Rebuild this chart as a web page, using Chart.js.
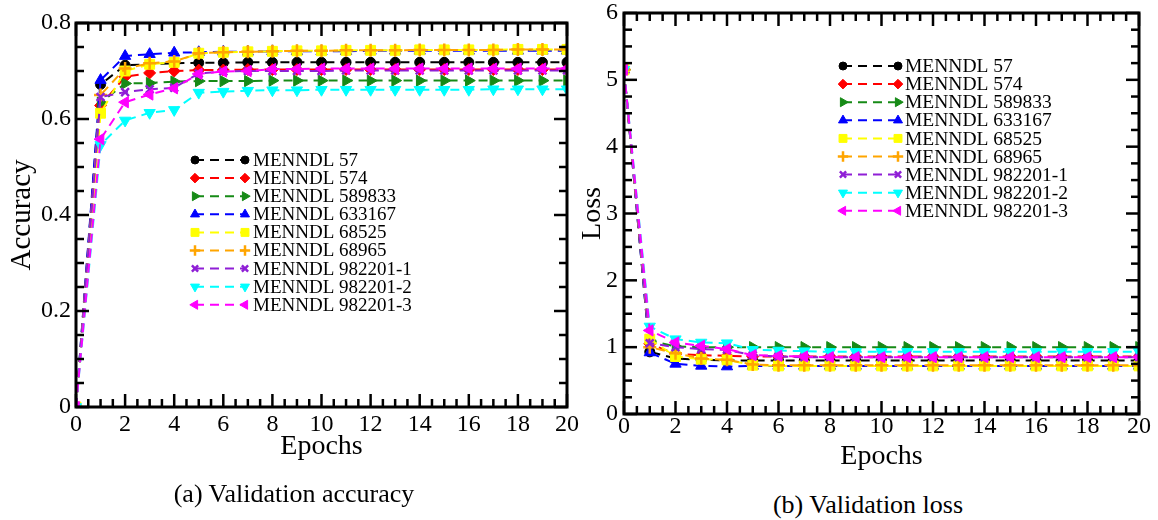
<!DOCTYPE html>
<html>
<head>
<meta charset="utf-8">
<script src="https://cdn.jsdelivr.net/npm/chart.js@4/dist/chart.umd.min.js"></script>
<style>
  body { margin: 0; background: #fff; width: 1158px; height: 520px; position: relative; overflow: hidden; }
  canvas { position: absolute; top: 0; }
  .caption { position: absolute; width: 400px; text-align: center; font: 26px "Liberation Serif", serif; line-height: 30px; color: #000; }
</style>
</head>
<body>
<canvas id="accChart" width="580" height="480" style="left:0"></canvas>
<canvas id="lossChart" width="590" height="480" style="left:568px"></canvas>
<div class="caption" style="left:94px; top:479px">(a) Validation accuracy</div>
<div class="caption" style="left:668px; top:490px">(b) Validation loss</div>
<script>
const epochs = [0, 1, 2, 3, 4, 5, 6, 7, 8, 9, 10, 11, 12, 13, 14, 15, 16, 17, 18, 19, 20];

const seriesNames = [
  "MENNDL 57", "MENNDL 574", "MENNDL 589833", "MENNDL 633167", "MENNDL 68525",
  "MENNDL 68965", "MENNDL 982201-1", "MENNDL 982201-2", "MENNDL 982201-3"
];

// validation accuracy per epoch
const acc57      = [0, 0.672, 0.712, 0.714, 0.716, 0.717, 0.717, 0.718, 0.718, 0.718, 0.718, 0.718, 0.718, 0.718, 0.718, 0.718, 0.718, 0.718, 0.718, 0.718, 0.718];
const acc574     = [0, 0.628, 0.688, 0.696, 0.700, 0.702, 0.702, 0.703, 0.703, 0.703, 0.703, 0.703, 0.703, 0.703, 0.703, 0.703, 0.703, 0.703, 0.703, 0.703, 0.703];
const acc589833  = [0, 0.634, 0.674, 0.675, 0.678, 0.679, 0.679, 0.679, 0.680, 0.680, 0.680, 0.680, 0.680, 0.680, 0.680, 0.680, 0.680, 0.680, 0.680, 0.680, 0.680];
const acc633167  = [0, 0.681, 0.731, 0.735, 0.738, 0.739, 0.740, 0.740, 0.741, 0.741, 0.741, 0.741, 0.742, 0.742, 0.742, 0.742, 0.742, 0.742, 0.742, 0.742, 0.742];
const acc68525   = [0, 0.612, 0.700, 0.714, 0.718, 0.737, 0.739, 0.740, 0.741, 0.742, 0.742, 0.743, 0.743, 0.743, 0.744, 0.744, 0.744, 0.744, 0.745, 0.745, 0.745];
const acc68965   = [0, 0.650, 0.705, 0.716, 0.720, 0.737, 0.739, 0.740, 0.741, 0.742, 0.742, 0.743, 0.743, 0.743, 0.744, 0.744, 0.744, 0.744, 0.745, 0.745, 0.745];
const acc982201a = [0, 0.646, 0.656, 0.662, 0.665, 0.695, 0.699, 0.700, 0.700, 0.700, 0.700, 0.701, 0.701, 0.701, 0.701, 0.701, 0.701, 0.701, 0.701, 0.701, 0.701];
const acc982201b = [0, 0.546, 0.597, 0.613, 0.619, 0.655, 0.657, 0.659, 0.660, 0.660, 0.661, 0.661, 0.661, 0.661, 0.661, 0.661, 0.661, 0.662, 0.662, 0.662, 0.662];
const acc982201c = [0, 0.558, 0.635, 0.651, 0.664, 0.694, 0.699, 0.700, 0.704, 0.704, 0.705, 0.705, 0.705, 0.705, 0.705, 0.705, 0.705, 0.705, 0.705, 0.705, 0.705];

// validation loss per epoch
const loss57      = [5.15, 0.93, 0.83, 0.81, 0.80, 0.80, 0.80, 0.80, 0.80, 0.80, 0.80, 0.80, 0.80, 0.80, 0.80, 0.80, 0.80, 0.80, 0.80, 0.80, 0.80];
const loss574     = [5.15, 1.05, 0.90, 0.88, 0.87, 0.86, 0.86, 0.86, 0.86, 0.86, 0.86, 0.86, 0.86, 0.86, 0.86, 0.86, 0.86, 0.86, 0.86, 0.86, 0.86];
const loss589833  = [5.15, 1.10, 1.01, 1.00, 1.00, 1.00, 1.00, 1.00, 1.00, 1.00, 1.00, 1.00, 1.00, 1.00, 1.00, 1.00, 1.00, 1.00, 1.00, 1.00, 1.00];
const loss633167  = [5.15, 0.92, 0.75, 0.72, 0.71, 0.72, 0.72, 0.72, 0.72, 0.72, 0.72, 0.72, 0.72, 0.72, 0.72, 0.72, 0.72, 0.72, 0.72, 0.72, 0.72];
const loss68525   = [5.15, 1.12, 0.86, 0.82, 0.81, 0.73, 0.72, 0.72, 0.72, 0.72, 0.72, 0.72, 0.72, 0.72, 0.72, 0.72, 0.72, 0.72, 0.72, 0.72, 0.72];
const loss68965   = [5.15, 1.00, 0.91, 0.83, 0.81, 0.74, 0.73, 0.73, 0.73, 0.73, 0.73, 0.73, 0.73, 0.73, 0.73, 0.73, 0.73, 0.73, 0.73, 0.73, 0.73];
const loss982201a = [5.15, 1.06, 1.00, 0.97, 0.96, 0.88, 0.86, 0.85, 0.85, 0.85, 0.85, 0.85, 0.85, 0.85, 0.85, 0.85, 0.85, 0.85, 0.85, 0.85, 0.85];
const loss982201b = [5.15, 1.31, 1.12, 1.07, 1.06, 0.96, 0.95, 0.94, 0.93, 0.93, 0.93, 0.93, 0.93, 0.93, 0.93, 0.93, 0.93, 0.93, 0.93, 0.93, 0.93];
const loss982201c = [5.15, 1.25, 1.07, 1.02, 0.97, 0.88, 0.87, 0.86, 0.85, 0.85, 0.85, 0.85, 0.85, 0.85, 0.85, 0.85, 0.85, 0.85, 0.85, 0.85, 0.85];

const accuracySeries = [acc57, acc574, acc589833, acc633167, acc68525, acc68965, acc982201a, acc982201b, acc982201c];
const lossSeries = [loss57, loss574, loss589833, loss633167, loss68525, loss68965, loss982201a, loss982201b, loss982201c];

const colors = ["#000000", "#ff0000", "#168a16", "#0000ff", "#ffff00", "#ffa500", "#8f1fd6", "#00ffff", "#ff00ff"];
const markers = [
  { style: "circle", rotation: 0, radius: 5 },
  { style: "rectRot", rotation: 0, radius: 6 },
  { style: "triangle", rotation: 90, radius: 6.5 },
  { style: "triangle", rotation: 0, radius: 6.5 },
  { style: "rect", rotation: 0, radius: 7 },
  { style: "cross", rotation: 0, radius: 6.5 },
  { style: "crossRot", rotation: 0, radius: 5.5 },
  { style: "triangle", rotation: 180, radius: 6.5 },
  { style: "triangle", rotation: 270, radius: 6.5 }
];

Chart.defaults.font.family = "'Liberation Serif', 'Times New Roman', serif";
Chart.defaults.color = "#000";

function buildDatasets(series) {
  return series.map((values, i) => ({
    label: seriesNames[i],
    data: epochs.map((e, k) => ({ x: e, y: values[k] })),
    borderColor: colors[i],
    backgroundColor: colors[i],
    borderWidth: 2,
    borderDash: [9, 6],
    pointStyle: markers[i].style,
    pointRotation: markers[i].rotation,
    pointRadius: markers[i].radius,
    pointBackgroundColor: colors[i],
    pointBorderColor: colors[i],
    pointBorderWidth: markers[i].style.startsWith("cross") ? 2.5 : 1,
    tension: 0,
    order: series.length - i
  }));
}

// frame box with inward major/minor ticks on all four sides
const axisFrame = {
  id: "axisFrame",
  afterDatasetsDraw(chart, args, opts) {
    const { ctx, chartArea: a, scales: { x, y } } = chart;
    const isMajor = (v, step) => Math.abs(v / step - Math.round(v / step)) < 1e-6;
    const seg = (x1, y1, x2, y2) => { ctx.beginPath(); ctx.moveTo(x1, y1); ctx.lineTo(x2, y2); ctx.stroke(); };
    ctx.save();
    ctx.strokeStyle = "#000";
    ctx.lineWidth = opts.tickWidth;
    for (let v = x.min; v <= x.max + 1e-9; v += opts.xMinor) {
      const px = x.getPixelForValue(v);
      const len = isMajor(v, opts.xMajor) ? opts.majorLen : opts.minorLen;
      seg(px, a.bottom, px, a.bottom - len);
      seg(px, a.top, px, a.top + len);
    }
    for (let v = y.min; v <= y.max + 1e-9; v += opts.yMinor) {
      const py = y.getPixelForValue(v);
      const len = isMajor(v, opts.yMajor) ? opts.majorLen : opts.minorLen;
      seg(a.left, py, a.left + len, py);
      seg(a.right, py, a.right - len, py);
    }
    ctx.lineWidth = opts.frameWidth;
    ctx.strokeRect(a.left, a.top, a.right - a.left, a.bottom - a.top);
    ctx.restore();
  }
};

// legend rows: dashed sample with a marker at each end, then the name
const lineLegend = {
  id: "lineLegend",
  afterDraw(chart, args, opts) {
    const ctx = chart.ctx;
    chart.data.datasets.forEach((ds, i) => {
      const y = opts.top + i * opts.rowHeight;
      const x1 = opts.left;
      const x2 = opts.left + opts.sampleWidth;
      ctx.save();
      ctx.strokeStyle = ds.borderColor;
      ctx.lineWidth = ds.borderWidth;
      ctx.setLineDash(ds.borderDash);
      ctx.beginPath();
      ctx.moveTo(x1, y);
      ctx.lineTo(x2, y);
      ctx.stroke();
      ctx.setLineDash([]);
      ctx.fillStyle = ds.pointBackgroundColor;
      ctx.strokeStyle = ds.pointBorderColor;
      ctx.lineWidth = ds.pointBorderWidth;
      const pt = { pointStyle: ds.pointStyle, rotation: ds.pointRotation, radius: ds.pointRadius * 0.8, borderWidth: ds.pointBorderWidth };
      Chart.helpers.drawPoint(ctx, pt, x1, y);
      Chart.helpers.drawPoint(ctx, pt, x2, y);
      ctx.fillStyle = "#000";
      ctx.font = opts.font;
      ctx.textBaseline = "middle";
      ctx.fillText(ds.label, x2 + opts.textGap, y + 1);
      ctx.restore();
    });
  }
};

function makeChart(canvasId, series, cfg) {
  return new Chart(document.getElementById(canvasId), {
    type: "line",
    data: { datasets: buildDatasets(series) },
    plugins: [axisFrame, lineLegend],
    options: {
      responsive: false,
      animation: false,
      devicePixelRatio: 1,
      events: [],
      layout: { padding: cfg.padding },
      plugins: {
        legend: { display: false },
        tooltip: { enabled: false },
        axisFrame: cfg.frame,
        lineLegend: cfg.legend
      },
      scales: {
        x: {
          type: "linear",
          min: 0,
          max: 20,
          grid: { display: false, drawTicks: false },
          border: { display: false },
          ticks: { stepSize: 2, maxRotation: 0, autoSkip: false, padding: cfg.xTickPad, font: { size: 24 } },
          title: { display: true, text: "Epochs", font: { size: 28 }, padding: { top: 0, bottom: cfg.xTitlePad } },
          afterFit(scale) {
            scale.height = cfg.xHeight;
            scale.paddingLeft = 0;
            scale.paddingRight = 0;
          }
        },
        y: {
          min: cfg.yMin,
          max: cfg.yMax,
          grid: { display: false, drawTicks: false },
          border: { display: false },
          ticks: { stepSize: cfg.frame.yMajor, padding: cfg.yTickPad, font: { size: 24 } },
          title: { display: true, text: cfg.yTitle, font: { size: cfg.yTitleSize }, padding: { top: cfg.yTitlePad, bottom: 0 } },
          afterFit(scale) {
            scale.width = cfg.yWidth;
            scale.paddingTop = 0;
            scale.paddingBottom = 0;
          }
        }
      }
    }
  });
}

makeChart("accChart", accuracySeries, {
  padding: { left: 0, top: 23, right: 13, bottom: 0 },
  xHeight: 73,
  yWidth: 76,
  yMin: 0,
  yMax: 0.8,
  yTitle: "Accuracy",
  yTitleSize: 29,
  yTitlePad: 5,
  xTitlePad: 17,
  xTickPad: 3,
  yTickPad: 5,
  frame: { xMajor: 2, xMinor: 0.5, yMajor: 0.2, yMinor: 0.05, majorLen: 13, minorLen: 8, tickWidth: 2.5, frameWidth: 3 },
  legend: { left: 195, top: 160, rowHeight: 18.1, sampleWidth: 50, textGap: 8, font: "19px 'Liberation Serif'" }
});

makeChart("lossChart", lossSeries, {
  padding: { left: 0, top: 13, right: 19, bottom: 0 },
  xHeight: 66,
  yWidth: 56,
  yMin: 0,
  yMax: 6,
  yTitle: "Loss",
  yTitleSize: 28,
  yTitlePad: 8,
  xTitlePad: 7,
  xTickPad: -2,
  yTickPad: 6,
  frame: { xMajor: 2, xMinor: 0.5, yMajor: 1, yMinor: 0.25, majorLen: 13, minorLen: 8, tickWidth: 2.5, frameWidth: 3 },
  legend: { left: 275, top: 66, rowHeight: 18.1, sampleWidth: 55, textGap: 7, font: "19.5px 'Liberation Serif'" }
});
</script>
</body>
</html>
